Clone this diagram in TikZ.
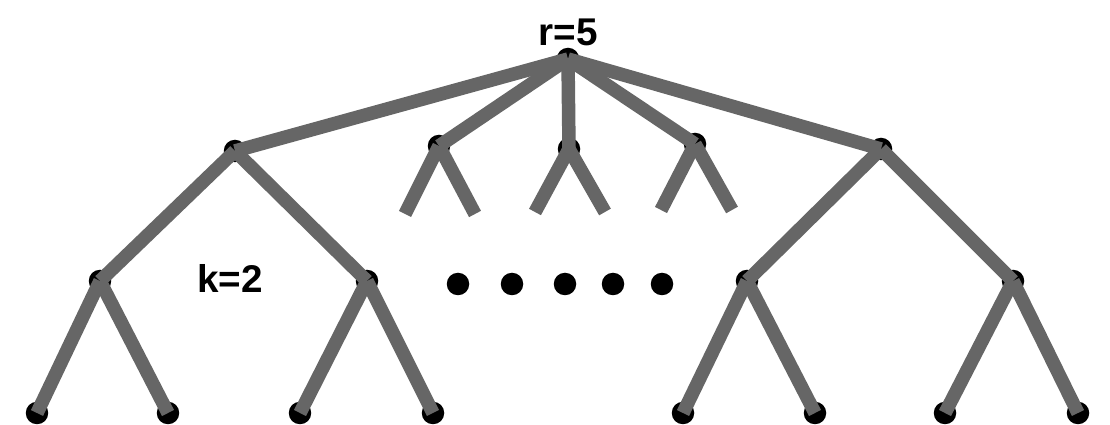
\documentclass[tikz,border=0pt]{standalone}
\usepackage{fontspec}
\setmainfont{Liberation Sans}
\usepackage{tikz}
\definecolor{edgegray}{RGB}{102,102,102}
\newcommand*{\yLeaf}{413}
\newcommand*{\yMid}{281}

\tikzset{
	vert/.style={circle,fill=black,inner sep=0pt,minimum size=0.45cm},
	edge/.style={edgegray,line width=0.27cm},
	lbl/.style={font=\fontsize{22}{26}\selectfont\bfseries}
}

\begin{document}
\begin{tikzpicture}[x=0.02cm,y=-0.02cm]
	\useasboundingbox (0,0) rectangle (1110,425);
	
	% root and first level
	\node[vert] (r) at (568,59) {};
	\node[lbl] at (568,32) {r=5};
	\node[vert] (a) at (235,151) {};
	\node[vert] (b) at (439,146) {};
	\node[vert] (c) at (569,149) {};
	\node[vert] (d) at (695,144) {};
	\node[vert] (e) at (881,149) {};
	
	% second level
	\node[vert] (a1) at (100,\yMid) {};
	\node[vert] (a2) at (367,\yMid) {};
	\node[vert] (e1) at (747,\yMid) {};
	\node[vert] (e2) at (1013,\yMid) {};
	\node[lbl] (k) at (230,278) {k=2};
	
	% leaves
	\node[vert] (l1) at (37,\yLeaf) {};
	\node[vert] (l2) at (168,\yLeaf) {};
	\node[vert] (l3) at (300,\yLeaf) {};
	\node[vert] (l4) at (433,\yLeaf) {};
	\node[vert] (l5) at (683,\yLeaf) {};
	\node[vert] (l6) at (815,\yLeaf) {};
	\node[vert] (l7) at (945,\yLeaf) {};
	\node[vert] (l8) at (1078,\yLeaf) {};
	
	% stubs of the middle subtrees
	\coordinate (b1) at (405,214);
	\coordinate (b2) at (475,214);
	\coordinate (c1) at (535,212);
	\coordinate (c2) at (605,212);
	\coordinate (d1) at (661,210);
	\coordinate (d2) at (732,210);
	
	% dots
	\foreach \x [count=\i] in {458,512,565,613,662}
		\node[vert] (dot\i) at (\x,284) {};
	
	\foreach \u/\v in {r/a,r/b,r/c,r/d,r/e,a/a1,a/a2,e/e1,e/e2,
		a1/l1,a1/l2,a2/l3,a2/l4,e1/l5,e1/l6,e2/l7,e2/l8,
		b/b1,b/b2,c/c1,c/c2,d/d1,d/d2}
		\draw[edge] (\u.center) -- (\v.center);
\end{tikzpicture}
\end{document}
